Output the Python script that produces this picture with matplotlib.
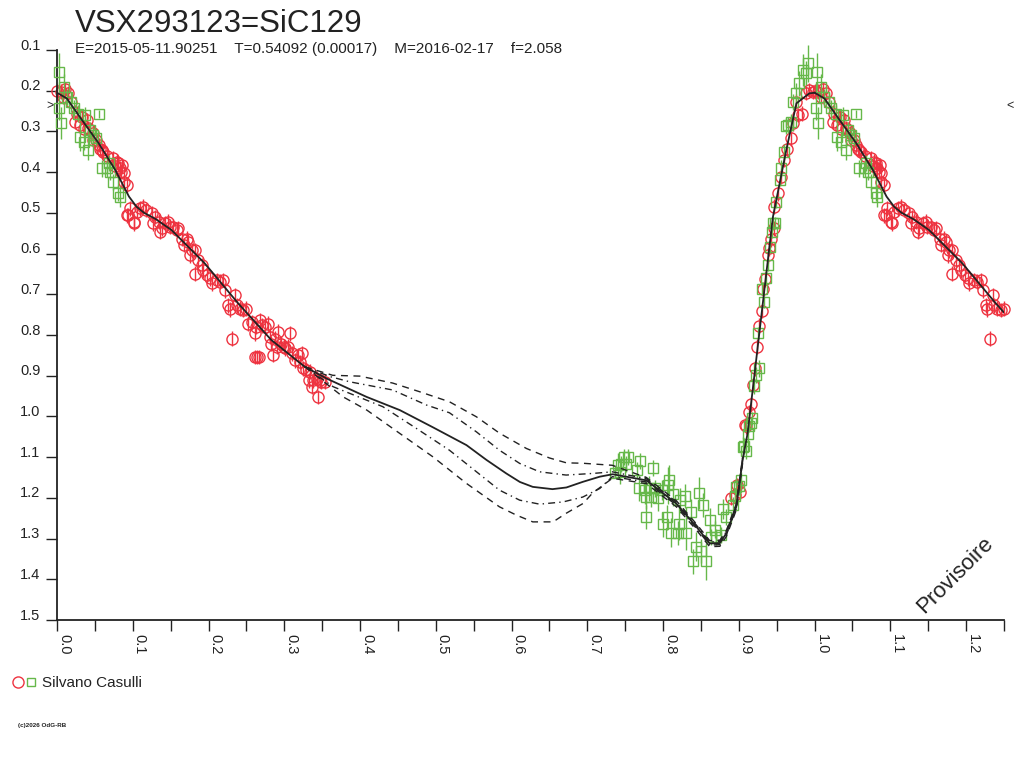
import matplotlib
matplotlib.use("Agg")
import matplotlib.pyplot as plt
import matplotlib.transforms as mtransforms
from matplotlib.lines import Line2D
from matplotlib.legend_handler import HandlerTuple
import numpy as np

plt.rcParams["font.family"] = ["Liberation Sans", "DejaVu Sans"]

TITLE = "VSX293123=SiC129"
SUBTITLE = "E=2015-05-11.90251    T=0.54092 (0.00017)    M=2016-02-17    f=2.058"
OBSERVER = "Silvano Casulli"
COPYRIGHT = "(c)2026 OdG-RB"
STAMP = "Provisoire"
COMP_MAG = 0.237

# red circles (phase, magnitude)
red_phase = [0.000, 0.005, 0.008, 0.011, 0.015, 0.019, 0.024, 0.026, 0.030, 0.033,
             0.035, 0.039, 0.041, 0.044, 0.047, 0.048, 0.052, 0.055, 0.057, 0.059,
             0.061, 0.066, 0.074, 0.077, 0.079, 0.081, 0.083, 0.085, 0.086, 0.088,
             0.088, 0.092,
             0.092, 0.094, 0.096, 0.101, 0.102, 0.105, 0.110, 0.114, 0.118, 0.125,
             0.127, 0.129, 0.134, 0.136, 0.138, 0.143, 0.147, 0.149, 0.153, 0.158,
             0.160, 0.165, 0.167, 0.171, 0.173, 0.176, 0.178, 0.182, 0.182, 0.186,
             0.191, 0.193, 0.198, 0.202, 0.204, 0.211, 0.215, 0.219, 0.222, 0.226,
             0.228, 0.231, 0.235, 0.237, 0.241, 0.246, 0.250, 0.252, 0.257, 0.261,
             0.261, 0.263, 0.264, 0.266, 0.268, 0.270, 0.274, 0.279, 0.281, 0.283,
             0.285, 0.288, 0.290, 0.292, 0.296, 0.299, 0.301, 0.305, 0.307, 0.310,
             0.314, 0.318, 0.321, 0.323, 0.325, 0.329, 0.332, 0.334, 0.336, 0.338,
             0.343, 0.344, 0.347, 0.349, 0.354,
             0.889, 0.8945, 0.897, 0.901, 0.908, 0.910, 0.913, 0.916, 0.919, 0.921,
             0.924, 0.927, 0.930, 0.932, 0.935, 0.938, 0.940, 0.943, 0.946, 0.947,
             0.952, 0.956, 0.960, 0.963, 0.969, 0.971, 0.976, 0.978, 0.983, 0.989,
             0.993, 0.998]
red_mag = [0.201, 0.202, 0.215, 0.197, 0.206, 0.227, 0.277, 0.256, 0.284, 0.264,
           0.293, 0.272, 0.292, 0.297, 0.305, 0.321, 0.321, 0.333, 0.342, 0.346,
           0.350, 0.360, 0.366, 0.386, 0.374, 0.378, 0.391, 0.399, 0.383, 0.403,
           0.424, 0.432,
           0.506, 0.505, 0.489, 0.522, 0.526, 0.498, 0.489, 0.485, 0.493, 0.501,
           0.526, 0.510, 0.522, 0.546, 0.538, 0.526, 0.522, 0.534, 0.534, 0.542,
           0.538, 0.563, 0.579, 0.563, 0.571, 0.604, 0.592, 0.592, 0.649, 0.616,
           0.628, 0.641, 0.653, 0.661, 0.673, 0.665, 0.669, 0.665, 0.690, 0.727,
           0.737, 0.809, 0.702, 0.727, 0.735, 0.739, 0.735, 0.772, 0.768, 0.796,
           0.854, 0.780, 0.854, 0.854, 0.764, 0.776, 0.780, 0.772, 0.805, 0.821,
           0.849, 0.809, 0.829, 0.792, 0.821, 0.829, 0.833, 0.829, 0.796, 0.845,
           0.862, 0.850, 0.866, 0.845, 0.882, 0.886, 0.911, 0.890, 0.927, 0.911,
           0.907, 0.952, 0.911, 0.915, 0.915,
           1.200, 1.194, 1.169, 1.185, 1.021, 1.024, 0.989, 0.970, 0.923, 0.882,
           0.829, 0.777, 0.741, 0.687, 0.663, 0.604, 0.587, 0.565, 0.538, 0.485,
           0.452, 0.411, 0.370, 0.342, 0.317, 0.280, 0.227, 0.260, 0.256, 0.206,
           0.198, 0.203]
RED_ERR = 0.018

# green squares (phase, magnitude, error)
green_phase = [0.003, 0.009, 0.002, 0.005, 0.013, 0.019, 0.022, 0.028, 0.030, 0.035,
               0.037, 0.041, 0.044, 0.048, 0.052, 0.055, 0.059, 0.066, 0.068, 0.070,
               0.074, 0.081, 0.083,
               0.736, 0.7405, 0.743, 0.745, 0.749, 0.7515, 0.754, 0.765, 0.768, 0.769,
               0.776, 0.778, 0.778, 0.782, 0.7845, 0.787, 0.789, 0.793, 0.798, 0.800,
               0.805, 0.8065, 0.808, 0.811, 0.813, 0.8197, 0.821, 0.822, 0.8285, 0.8307,
               0.837, 0.840, 0.843, 0.8474, 0.8505, 0.8527, 0.856, 0.8615, 0.8637, 0.868,
               0.8694, 0.877, 0.879, 0.8835, 0.8922, 0.8945, 0.8966, 0.900, 0.9033, 0.9055,
               0.9067, 0.910, 0.912, 0.914, 0.9166, 0.917, 0.920, 0.922, 0.927, 0.925,
               0.931, 0.933, 0.936, 0.938, 0.9415, 0.944, 0.9472, 0.9495,
               0.945, 0.954, 0.956, 0.960, 0.9626, 0.9648, 0.9693, 0.9714, 0.9758, 0.980,
               0.9846, 0.989, 0.991]
green_mag = [0.153, 0.190, 0.243, 0.279, 0.215, 0.227, 0.243, 0.256, 0.313, 0.325,
             0.260, 0.346, 0.297, 0.309, 0.317, 0.258, 0.391, 0.391, 0.378, 0.399,
             0.424, 0.452, 0.460,
             1.140, 1.120, 1.136, 1.116, 1.099, 1.116, 1.099, 1.132, 1.177, 1.109,
             1.181, 1.197, 1.247, 1.177, 1.197, 1.126, 1.177, 1.2015, 1.181, 1.265,
             1.248, 1.169, 1.155, 1.2855, 1.191, 1.287, 1.263, 1.206, 1.196, 1.287,
             1.234, 1.356, 1.320, 1.188, 1.331, 1.218, 1.356, 1.255, 1.296, 1.278,
             1.296, 1.292, 1.228, 1.247, 1.218, 1.195, 1.174, 1.172, 1.157, 1.0745,
             1.073, 1.085, 1.042, 1.024, 1.017, 1.005, 0.925, 0.898, 0.882, 0.796,
             0.686, 0.718, 0.659, 0.628, 0.583, 0.547, 0.524, 0.473,
             0.526, 0.419, 0.391, 0.350, 0.287, 0.284, 0.276, 0.227, 0.206, 0.182,
             0.149, 0.157, 0.133]
green_err = [0.045, 0.030, 0.030, 0.040, 0.020, 0.025, 0.020, 0.020, 0.035, 0.020,
             0.020, 0.025, 0.020, 0.020, 0.020, 0.010, 0.020, 0.020, 0.020, 0.020,
             0.020, 0.020, 0.025,
             0.012, 0.030, 0.030, 0.020, 0.020, 0.020, 0.020, 0.020, 0.030, 0.020,
             0.035, 0.030, 0.030, 0.030, 0.025, 0.020, 0.020, 0.030, 0.025, 0.030,
             0.030, 0.045, 0.035, 0.035, 0.030, 0.030, 0.040, 0.030, 0.030, 0.040,
             0.030, 0.030, 0.035, 0.040, 0.030, 0.030, 0.045, 0.030, 0.020, 0.020,
             0.020, 0.020, 0.025, 0.020, 0.020, 0.020, 0.020, 0.020, 0.020, 0.025,
             0.020, 0.020, 0.020, 0.015, 0.015, 0.015, 0.020, 0.020, 0.020, 0.015,
             0.015, 0.015, 0.015, 0.015, 0.015, 0.015, 0.015, 0.015,
             0.015, 0.015, 0.020, 0.020, 0.020, 0.020, 0.020, 0.020, 0.025, 0.030,
             0.040, 0.030, 0.045]

# fitted light curve
model_phase = [0.0, 0.013, 0.033, 0.055, 0.077, 0.095, 0.105, 0.115, 0.13, 0.151,
               0.195, 0.239, 0.283, 0.327, 0.356, 0.4086, 0.4525, 0.4965, 0.5405, 0.567,
               0.593, 0.611, 0.628, 0.654, 0.6724, 0.694, 0.7164, 0.7335, 0.778, 0.8175,
               0.844, 0.8615, 0.875, 0.8835, 0.8966, 0.905, 0.9116, 0.945, 0.9626, 0.976,
               0.993, 1.0]
model_mag = [0.205, 0.219, 0.272, 0.329, 0.395, 0.46, 0.485, 0.50, 0.515, 0.542,
             0.624, 0.722, 0.8125, 0.878, 0.907, 0.952, 0.9845, 1.027, 1.0705, 1.107,
             1.140, 1.161, 1.173, 1.1786, 1.1745, 1.1607, 1.148, 1.142, 1.157, 1.214,
             1.271, 1.312, 1.311, 1.287, 1.222, 1.107, 1.041, 0.51, 0.346, 0.231,
             0.2065, 0.205]

# uncertainty envelopes across the gap
up_dash_phase = [0.327, 0.364, 0.3997, 0.443, 0.4789, 0.518, 0.5537, 0.584, 0.6196, 0.65,
                 0.6724, 0.694, 0.733, 0.778, 0.8175, 0.844, 0.8615, 0.875, 0.8835,
                 0.8966, 0.905]
up_dash_mag = [0.878, 0.899, 0.901, 0.918, 0.9395, 0.964, 1.001, 1.041, 1.0787, 1.102,
               1.114, 1.115, 1.120, 1.150, 1.207, 1.264, 1.305, 1.304, 1.280,
               1.215, 1.100]
up_dashdot_phase = [0.327, 0.36, 0.3865, 0.443, 0.4877, 0.518, 0.5537, 0.584, 0.6108, 0.637,
                    0.672, 0.7075, 0.733, 0.778, 0.8175, 0.844, 0.8615, 0.875, 0.8835,
                    0.8966, 0.905]
up_dashdot_mag = [0.878, 0.902, 0.915, 0.935, 0.972, 0.991, 1.038, 1.083, 1.1155, 1.136,
                  1.144, 1.140, 1.136, 1.153, 1.210, 1.267, 1.308, 1.307, 1.283,
                  1.218, 1.103]
lo_dashdot_phase = [0.327, 0.3645, 0.43, 0.4745, 0.518, 0.5537, 0.584, 0.6108, 0.637, 0.668,
                    0.694, 0.7164, 0.733, 0.778, 0.8175, 0.844, 0.8615, 0.875, 0.8835,
                    0.8966, 0.905]
lo_dashdot_mag = [0.878, 0.927, 0.976, 1.0296, 1.083, 1.136, 1.181, 1.2057, 1.2155, 1.210,
                  1.198, 1.177, 1.148, 1.161, 1.218, 1.275, 1.316, 1.315, 1.291,
                  1.226, 1.111]
lo_dash_phase = [0.327, 0.3777, 0.409, 0.4525, 0.496, 0.5405, 0.584, 0.6065, 0.628, 0.6548,
                 0.672, 0.6944, 0.707, 0.733, 0.778, 0.8175, 0.844, 0.8615, 0.875,
                 0.8835, 0.8966, 0.905]
lo_dash_mag = [0.878, 0.952, 0.9845, 1.0418, 1.099, 1.1646, 1.222, 1.2425, 1.259, 1.259,
               1.238, 1.2138, 1.188, 1.152, 1.165, 1.222, 1.279, 1.320, 1.319,
               1.295, 1.230, 1.115]

RED = "#ee3340"
GREEN = "#66b84a"
INK = "#222222"


def wrap(phase, *cols):
    # repeat the first quarter of the cycle after phase 1
    phase = np.asarray(phase)
    mask = phase <= 0.25
    out = [np.concatenate([phase, phase[mask] + 1.0])]
    for c in cols:
        c = np.asarray(c)
        out.append(np.concatenate([c, c[mask]]))
    return out


fig = plt.figure(figsize=(10.24, 7.68), dpi=100)
ax = fig.add_axes([57 / 1024, 1 - 620 / 768, (1004 - 57) / 1024, (620 - 50) / 768])

rp, rm = wrap(red_phase, red_mag)
ax.errorbar(rp, rm, yerr=RED_ERR, fmt="o", ms=8, mfc="none", mec=RED, mew=1,
            ecolor=RED, elinewidth=1, capsize=0, clip_on=False, zorder=2)

gp, gm, ge = wrap(green_phase, green_mag, green_err)
ax.errorbar(gp, gm, yerr=ge, fmt="s", ms=7, mfc="none", mec=GREEN, mew=1,
            ecolor=GREEN, elinewidth=1, capsize=0, clip_on=False, zorder=3)

mp = np.asarray(model_phase)
for shift in (0.0, 1.0):
    ax.plot(mp + shift, model_mag, color=INK, lw=1.3, zorder=5)

ax.plot(up_dash_phase, up_dash_mag, color=INK, lw=1, dashes=(5, 4), zorder=4)
ax.plot(lo_dash_phase, lo_dash_mag, color=INK, lw=1, dashes=(5, 4), zorder=4)
ax.plot(up_dashdot_phase, up_dashdot_mag, color=INK, lw=1, dashes=(5, 3, 1, 3), zorder=4)
ax.plot(lo_dashdot_phase, lo_dashdot_mag, color=INK, lw=1, dashes=(5, 3, 1, 3), zorder=4)

ax.set_xlim(0, 1.25)
ax.set_ylim(1.5, 0.1)
for side in ("top", "right"):
    ax.spines[side].set_visible(False)
for side in ("left", "bottom"):
    ax.spines[side].set_color(INK)
    ax.spines[side].set_linewidth(1.3)

ax.set_xticks(np.arange(0, 1.21, 0.1))
ax.set_xticks(np.arange(0.05, 1.26, 0.1), minor=True)
ax.set_xticklabels([f"{v:.1f}" for v in np.arange(0, 1.21, 0.1)])
ax.set_yticks(np.arange(0.1, 1.51, 0.1))
ax.set_yticklabels([f"{v:.1f}" for v in np.arange(0.1, 1.51, 0.1)])
ax.tick_params(axis="both", which="both", direction="out", length=8, width=1,
               color=INK, labelcolor=INK, labelsize=10.5)
ax.tick_params(axis="x", pad=2)
ax.tick_params(axis="y", pad=4)
plt.setp(ax.get_xticklabels(), rotation=-90, ha="left", va="top")
shift_up = mtransforms.ScaledTranslation(0, 6 / 100, fig.dpi_scale_trans)
for lab in ax.get_yticklabels():
    lab.set_transform(lab.get_transform() + shift_up)

# comparison star marks
ax.text(-0.004, COMP_MAG, ">", transform=ax.get_yaxis_transform(), ha="right",
        va="center", fontsize=9, color=INK)
ax.text(1.002, COMP_MAG, "<", transform=ax.get_yaxis_transform(), ha="left",
        va="center", fontsize=9, color=INK)

fig.text(75 / 1024, 1 - 32 / 768, TITLE, fontsize=22.5, color=INK, va="baseline")
fig.text(75 / 1024, 1 - 53 / 768, SUBTITLE, fontsize=11, color=INK, va="baseline")
fig.text(955 / 1024, 1 - 575 / 768, STAMP, fontsize=16, rotation=45, color=INK,
         ha="center", va="center")
fig.text(18 / 1024, 1 - 727 / 768, COPYRIGHT, fontsize=4.5, color=INK, weight="bold")

h_red = Line2D([], [], marker="o", ms=8, mfc="none", mec=RED, ls="none")
h_green = Line2D([], [], marker="s", ms=6, mfc="none", mec=GREEN, ls="none")
fig.legend(handles=[(h_red, h_green)], labels=[OBSERVER],
           handler_map={tuple: HandlerTuple(ndivide=None, pad=0.1)},
           loc="center left", bbox_to_anchor=(5 / 1024, 1 - 683 / 768),
           frameon=False, fontsize=11, handlelength=1.6, handletextpad=0.3,
           borderpad=0, labelcolor=INK)

fig.savefig("out.png", dpi=100)
